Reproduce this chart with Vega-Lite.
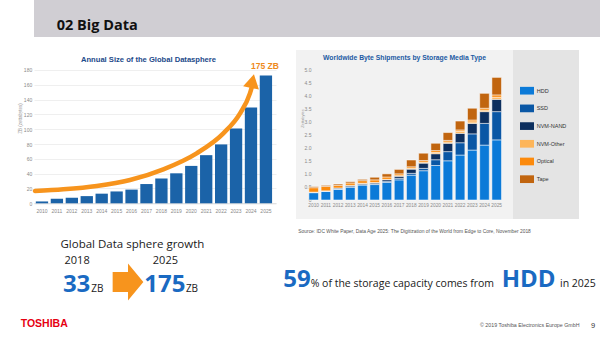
{
  "$schema": "https://vega.github.io/schema/vega-lite/v6.json",
  "padding": 0,
  "background": "#ffffff",
  "spacing": 13,
  "config": {
    "view": {"stroke": null},
    "font": "Open Sans",
    "axis": {
      "labelFont": "Liberation Sans",
      "titleFont": "Liberation Sans"
    }
  },
  "datasets": {
    "texts": [
      {"id": "heading", "text": "02 Big Data"},
      {"id": "source", "text": "Source: IDC White Paper, Data Age 2025: The Digitization of the World from Edge to Core, November 2018"},
      {"id": "share", "text": "59"},
      {"id": "share_text", "text": "% of the storage capacity comes from"},
      {"id": "media", "text": "HDD"},
      {"id": "share_year", "text": "in 2025"},
      {"id": "brand", "text": "TOSHIBA"},
      {"id": "copyright", "text": "© 2019 Toshiba Electronics Europe GmbH"},
      {"id": "page", "text": "9"}
    ],
    "datasphere": [
      {"year": "2010", "zb": 2.5},
      {"year": "2011", "zb": 6},
      {"year": "2012", "zb": 7.5},
      {"year": "2013", "zb": 9.7},
      {"year": "2014", "zb": 13},
      {"year": "2015", "zb": 16},
      {"year": "2016", "zb": 18.5},
      {"year": "2017", "zb": 26},
      {"year": "2018", "zb": 33.5},
      {"year": "2019", "zb": 40.5},
      {"year": "2020", "zb": 50.5},
      {"year": "2021", "zb": 65},
      {"year": "2022", "zb": 79.5},
      {"year": "2023", "zb": 101},
      {"year": "2024", "zb": 129.5},
      {"year": "2025", "zb": 172.5}
    ],
    "callout": [{"year": "2025", "zb": 175, "label": "175 ZB"}],
    "arrow": [
      {"year": 2009.53, "zb": 16.6},
      {"year": 2011.43, "zb": 18.9},
      {"year": 2013.67, "zb": 23.4},
      {"year": 2015.9, "zb": 31.5},
      {"year": 2018.13, "zb": 45.9},
      {"year": 2020.36, "zb": 67.5},
      {"year": 2022.15, "zb": 94.5},
      {"year": 2023.27, "zb": 121.5},
      {"year": 2023.93, "zb": 148.5},
      {"year": 2024.07, "zb": 158}
    ],
    "arrowhead": [{"year": 2024.1, "zb": 165}],
    "shipments": [
      {"year": "2010", "HDD": 0.28, "SSD": 0.01, "NVM-NAND": 0.01, "NVM-Other": 0.0, "Optical": 0.17, "Tape": 0.04},
      {"year": "2011", "HDD": 0.33, "SSD": 0.01, "NVM-NAND": 0.01, "NVM-Other": 0.0, "Optical": 0.17, "Tape": 0.04},
      {"year": "2012", "HDD": 0.41, "SSD": 0.01, "NVM-NAND": 0.04, "NVM-Other": 0.0, "Optical": 0.1, "Tape": 0.05},
      {"year": "2013", "HDD": 0.49, "SSD": 0.02, "NVM-NAND": 0.05, "NVM-Other": 0.0, "Optical": 0.09, "Tape": 0.05},
      {"year": "2014", "HDD": 0.57, "SSD": 0.02, "NVM-NAND": 0.04, "NVM-Other": 0.01, "Optical": 0.1, "Tape": 0.05},
      {"year": "2015", "HDD": 0.59, "SSD": 0.03, "NVM-NAND": 0.04, "NVM-Other": 0.01, "Optical": 0.1, "Tape": 0.1},
      {"year": "2016", "HDD": 0.67, "SSD": 0.05, "NVM-NAND": 0.06, "NVM-Other": 0.01, "Optical": 0.09, "Tape": 0.12},
      {"year": "2017", "HDD": 0.77, "SSD": 0.06, "NVM-NAND": 0.08, "NVM-Other": 0.02, "Optical": 0.07, "Tape": 0.17},
      {"year": "2018", "HDD": 0.95, "SSD": 0.07, "NVM-NAND": 0.16, "NVM-Other": 0.03, "Optical": 0.06, "Tape": 0.26},
      {"year": "2019", "HDD": 1.12, "SSD": 0.09, "NVM-NAND": 0.2, "NVM-Other": 0.04, "Optical": 0.06, "Tape": 0.28},
      {"year": "2020", "HDD": 1.32, "SSD": 0.22, "NVM-NAND": 0.23, "NVM-Other": 0.05, "Optical": 0.07, "Tape": 0.28},
      {"year": "2021", "HDD": 1.5, "SSD": 0.35, "NVM-NAND": 0.32, "NVM-Other": 0.05, "Optical": 0.06, "Tape": 0.3},
      {"year": "2022", "HDD": 1.72, "SSD": 0.47, "NVM-NAND": 0.36, "NVM-Other": 0.07, "Optical": 0.06, "Tape": 0.34},
      {"year": "2023", "HDD": 1.91, "SSD": 0.62, "NVM-NAND": 0.4, "NVM-Other": 0.06, "Optical": 0.07, "Tape": 0.45},
      {"year": "2024", "HDD": 2.1, "SSD": 0.83, "NVM-NAND": 0.45, "NVM-Other": 0.06, "Optical": 0.07, "Tape": 0.57},
      {"year": "2025", "HDD": 2.3, "SSD": 1.08, "NVM-NAND": 0.47, "NVM-Other": 0.08, "Optical": 0.09, "Tape": 0.67}
    ],
    "media": [
      {"media": "HDD", "tier": 1},
      {"media": "SSD", "tier": 2},
      {"media": "NVM-NAND", "tier": 3},
      {"media": "NVM-Other", "tier": 4},
      {"media": "Optical", "tier": 5},
      {"media": "Tape", "tier": 6}
    ],
    "growth": [
      {"year": 2018, "zb": 33, "unit": "ZB"},
      {"year": 2025, "zb": 175, "unit": "ZB"}
    ]
  },
  "vconcat": [
    {
      "width": 600,
      "height": 37,
      "view": {"fill": "#d0ced3", "stroke": null},
      "data": {"name": "texts"},
      "transform": [{"filter": "datum.id === 'heading'"}],
      "mark": {"type": "text", "align": "left", "baseline": "alphabetic", "dx": -277.3, "dy": 11.2, "font": "Open Sans", "fontWeight": "bold", "fontSize": 14.5, "fill": "#111111"},
      "encoding": {"text": {"field": "text"}}
    },
    {
      "spacing": 0,
      "vconcat": [
        {
          "spacing": 17,
          "hconcat": [
            {
              "width": 242,
              "height": 169,
              "title": {
                "text": "Annual Size of the Global Datasphere",
                "frame": "group",
                "anchor": "middle",
                "offset": -18,
                "baseline": "middle",
                "dx": -6.5,
                "font": "Liberation Sans",
                "fontSize": 7.6,
                "fontWeight": "bold",
                "color": "#1c4a8a"
              },
              "encoding": {
                "y": {
                  "field": "zb",
                  "type": "quantitative",
                  "scale": {"domain": [-21.2, 207], "nice": false, "zero": false},
                  "axis": {
                    "values": [0, 20, 40, 60, 80, 100, 120, 140, 160, 180],
                    "grid": true,
                    "gridColor": "#ebebeb",
                    "gridWidth": 0.8,
                    "domain": false,
                    "ticks": false,
                    "labelFontSize": 5,
                    "labelColor": "#8a8a8a",
                    "labelPadding": 2.3,
                    "minExtent": 34,
                    "maxExtent": 34,
                    "title": "ZB (zettabytes)",
                    "titleX": -14,
                    "titleY": 68,
                    "titleAngle": -90,
                    "titleAlign": "center",
                    "titleBaseline": "middle",
                    "titleFontSize": 4.5,
                    "titleFontWeight": "normal",
                    "titleColor": "#9a9a9a"
                  }
                }
              },
              "layer": [
                {
                  "encoding": {
                    "x": {
                      "field": "year",
                      "type": "ordinal",
                      "scale": {"paddingInner": 0.175, "paddingOuter": 0.192, "align": 0.316},
                      "axis": {
                        "orient": "bottom",
                        "offset": -15.7,
                        "title": null,
                        "labelAngle": 0,
                        "labelFontSize": 5,
                        "labelColor": "#8a8a8a",
                        "labelPadding": 5,
                        "ticks": false,
                        "domainColor": "#d6d6d6",
                        "domainWidth": 0.8
                      }
                    }
                  },
                  "layer": [
                    {
                      "data": {"name": "datasphere"},
                      "mark": {"type": "bar", "color": "#1b63a8"}
                    },
                    {
                      "data": {"name": "callout"},
                      "mark": {"type": "text", "baseline": "bottom", "dy": -3, "dx": -1, "font": "Liberation Sans", "fontWeight": "bold", "fontSize": 8.5, "fill": "#ee8a1c"},
                      "encoding": {"text": {"field": "label"}}
                    }
                  ]
                },
                {
                  "encoding": {
                    "x": {
                      "field": "year",
                      "type": "quantitative",
                      "scale": {"domain": [2009.467, 2025.676], "nice": false, "zero": false},
                      "axis": null
                    }
                  },
                  "layer": [
                    {
                      "data": {"name": "arrow"},
                      "mark": {"type": "line", "color": "#f7941d", "strokeWidth": 4.5, "interpolate": "monotone", "strokeCap": "round"}
                    },
                    {
                      "data": {"name": "arrowhead"},
                      "mark": {"type": "point", "shape": "triangle-up", "size": 260, "angle": 12, "filled": true, "fill": "#f7941d", "opacity": 1, "strokeWidth": 0}
                    }
                  ]
                }
              ],
              "resolve": {"scale": {"x": "independent"}}
            },
            {
              "spacing": 0,
              "hconcat": [
                {
                  "width": 217,
                  "height": 169,
                  "view": {"fill": "#f2f2f2", "stroke": null},
                  "title": {
                    "text": "Worldwide Byte Shipments by Storage Media Type",
                    "frame": "group",
                    "anchor": "middle",
                    "offset": -14.5,
                    "baseline": "middle",
                    "font": "Liberation Sans",
                    "fontSize": 6.8,
                    "fontWeight": "bold",
                    "color": "#1c5aa3"
                  },
                  "data": {"name": "shipments"},
                  "transform": [
                    {"fold": ["HDD", "SSD", "NVM-NAND", "NVM-Other", "Optical", "Tape"], "as": ["media", "eb"]},
                    {"lookup": "media", "from": {"data": {"name": "media"}, "key": "media", "fields": ["tier"]}}
                  ],
                  "mark": {"type": "bar", "stroke": "#ffffff", "strokeWidth": 0.5},
                  "encoding": {
                    "x": {
                      "field": "year",
                      "type": "ordinal",
                      "scale": {"paddingInner": 0.215, "paddingOuter": 1.567, "align": 0.528},
                      "axis": {
                        "offset": -19,
                        "title": null,
                        "labelAngle": 0,
                        "labelFontSize": 4.8,
                        "labelColor": "#8a8a8a",
                        "labelPadding": 2,
                        "ticks": false,
                        "domain": false
                      }
                    },
                    "y": {
                      "field": "eb",
                      "type": "quantitative",
                      "stack": "zero",
                      "scale": {"domain": [-0.727, 5.738], "nice": false, "zero": false},
                      "axis": {
                        "values": [0, 0.5, 1, 1.5, 2, 2.5, 3, 3.5, 4, 4.5, 5],
                        "labelExpr": "datum.value === 0 ? '0' : format(datum.value, '.1f')",
                        "offset": -17,
                        "grid": false,
                        "domain": false,
                        "ticks": false,
                        "labelPadding": 2,
                        "labelFontSize": 5,
                        "labelColor": "#8a8a8a",
                        "minExtent": 0,
                        "maxExtent": 0,
                        "title": "Zettabytes",
                        "titleX": -11,
                        "titleY": 68,
                        "titleAngle": -90,
                        "titleAlign": "center",
                        "titleBaseline": "middle",
                        "titleFontSize": 4,
                        "titleFontWeight": "normal",
                        "titleColor": "#9a9a9a"
                      }
                    },
                    "color": {
                      "field": "media",
                      "type": "nominal",
                      "scale": {
                        "domain": ["HDD", "SSD", "NVM-NAND", "NVM-Other", "Optical", "Tape"],
                        "range": ["#0b7ad8", "#0a57a5", "#0d2f5e", "#fdb55a", "#fc8a0c", "#c1650f"]
                      },
                      "legend": null
                    },
                    "order": {"field": "tier", "type": "quantitative", "sort": "ascending"}
                  }
                },
                {
                  "width": 66,
                  "height": 169,
                  "view": {"fill": "#e4e4e4", "stroke": null},
                  "data": {"name": "media"},
                  "encoding": {
                    "y": {
                      "field": "tier",
                      "type": "quantitative",
                      "scale": {"domain": [-1.3, 8.25], "nice": false, "zero": false, "reverse": true},
                      "axis": null
                    }
                  },
                  "layer": [
                    {
                      "mark": {"type": "point", "shape": "M-1,-0.55L1,-0.55L1,0.55L-1,0.55Z", "size": 196, "filled": true, "opacity": 1, "strokeWidth": 0, "xOffset": -19},
                      "encoding": {
                        "color": {
                          "field": "media",
                          "type": "nominal",
                          "scale": {
                            "domain": ["HDD", "SSD", "NVM-NAND", "NVM-Other", "Optical", "Tape"],
                            "range": ["#0b7ad8", "#0a57a5", "#0d2f5e", "#fdb55a", "#fc8a0c", "#c1650f"]
                          },
                          "legend": null
                        }
                      }
                    },
                    {
                      "mark": {"type": "text", "align": "left", "baseline": "middle", "dx": -9.3, "fontSize": 5.5, "fill": "#333333", "font": "Liberation Sans"},
                      "encoding": {"text": {"field": "media"}}
                    }
                  ]
                }
              ]
            }
          ]
        },
        {
          "spacing": 0,
          "hconcat": [
            {
              "width": 246,
              "height": 119,
              "layer": [
                {
                  "data": {"name": "growth"},
                  "encoding": {
                    "x": {
                      "field": "year",
                      "type": "quantitative",
                      "scale": {"domain": [2014.62, 2034.13], "nice": false, "zero": false},
                      "axis": {
                        "orient": "top",
                        "offset": -44,
                        "values": [2018, 2025],
                        "format": "d",
                        "labelFont": "Open Sans",
                        "labelFontSize": 11,
                        "labelColor": "#1a1a1a",
                        "labelPadding": 0,
                        "labelBaseline": "alphabetic",
                        "labelFlush": false,
                        "ticks": false,
                        "domain": false,
                        "grid": false,
                        "title": "Global Data sphere growth",
                        "titleFont": "Open Sans",
                        "titleFontSize": 11.5,
                        "titleFontWeight": "normal",
                        "titleColor": "#1a1a1a",
                        "titleX": 26,
                        "titleY": -16,
                        "titleAlign": "left",
                        "titleBaseline": "alphabetic",
                        "titleAngle": 0
                      }
                    }
                  },
                  "layer": [
                    {
                      "mark": {"type": "text", "align": "center", "baseline": "alphabetic", "dy": 13.5, "font": "Open Sans", "fontWeight": "bold", "fontSize": 24, "fill": "#1a6ac2"},
                      "encoding": {"text": {"field": "zb", "type": "quantitative", "format": "d"}}
                    },
                    {
                      "transform": [{"filter": "datum.year === 2018"}],
                      "mark": {"type": "text", "align": "left", "baseline": "alphabetic", "dx": 14.7, "dy": 13.5, "font": "Open Sans", "fontSize": 10, "fill": "#222222"},
                      "encoding": {"text": {"field": "unit"}}
                    },
                    {
                      "transform": [{"filter": "datum.year === 2025"}],
                      "mark": {"type": "text", "align": "left", "baseline": "alphabetic", "dx": 21, "dy": 13.5, "font": "Open Sans", "fontSize": 10, "fill": "#222222"},
                      "encoding": {"text": {"field": "unit"}}
                    }
                  ]
                },
                {
                  "data": {"name": "growth"},
                  "transform": [{"filter": "datum.year === 2018"}],
                  "mark": {"type": "point", "shape": "M-0.83,-0.54L0,-0.54L0,-1L0.83,0L0,1L0,0.54L-0.83,0.54Z", "size": 1369, "filled": true, "fill": "#f7941d", "opacity": 1, "strokeWidth": 0, "xOffset": -29, "yOffset": 3.5},
                  "encoding": {}
                },
                {
                  "data": {"name": "texts"},
                  "transform": [{"filter": "datum.id === 'brand'"}],
                  "mark": {"type": "text", "align": "left", "baseline": "alphabetic", "dx": -136.3, "dy": 48.8, "font": "Liberation Sans", "fontWeight": "bold", "fontSize": 10.5, "fill": "#e60012"},
                  "encoding": {"text": {"field": "text"}}
                }
              ]
            },
            {
              "width": 320,
              "height": 119,
              "data": {"name": "texts"},
              "layer": [
                {
                  "transform": [{"filter": "datum.id === 'source'"}],
                  "mark": {"type": "text", "align": "left", "baseline": "alphabetic", "dx": -141.7, "dy": -45.8, "font": "Liberation Sans", "fontSize": 4.9, "fill": "#555555"},
                  "encoding": {"text": {"field": "text"}}
                },
                {
                  "transform": [{"filter": "datum.id === 'share'"}],
                  "mark": {"type": "text", "align": "left", "baseline": "alphabetic", "dx": -156.7, "dy": 8.2, "font": "Open Sans", "fontWeight": "bold", "fontSize": 24, "fill": "#1a6ac2"},
                  "encoding": {"text": {"field": "text"}}
                },
                {
                  "transform": [{"filter": "datum.id === 'share_text'"}],
                  "mark": {"type": "text", "align": "left", "baseline": "alphabetic", "dx": -129.3, "dy": 8.2, "font": "Open Sans", "fontSize": 10.5, "fill": "#1a1a1a"},
                  "encoding": {"text": {"field": "text"}}
                },
                {
                  "transform": [{"filter": "datum.id === 'media'"}],
                  "mark": {"type": "text", "align": "left", "baseline": "alphabetic", "dx": 61.7, "dy": 8.2, "font": "Open Sans", "fontWeight": "bold", "fontSize": 24, "fill": "#1a6ac2"},
                  "encoding": {"text": {"field": "text"}}
                },
                {
                  "transform": [{"filter": "datum.id === 'share_year'"}],
                  "mark": {"type": "text", "align": "left", "baseline": "alphabetic", "dx": 120, "dy": 8.2, "font": "Open Sans", "fontSize": 10.5, "fill": "#1a1a1a"},
                  "encoding": {"text": {"field": "text"}}
                },
                {
                  "transform": [{"filter": "datum.id === 'copyright'"}],
                  "mark": {"type": "text", "align": "left", "baseline": "alphabetic", "dx": 40, "dy": 48.5, "font": "Liberation Sans", "fontSize": 5.3, "fill": "#555555"},
                  "encoding": {"text": {"field": "text"}}
                },
                {
                  "transform": [{"filter": "datum.id === 'page'"}],
                  "mark": {"type": "text", "align": "left", "baseline": "alphabetic", "dx": 151, "dy": 49, "font": "Liberation Sans", "fontSize": 7.5, "fill": "#333333"},
                  "encoding": {"text": {"field": "text"}}
                }
              ]
            }
          ]
        }
      ]
    }
  ]
}
